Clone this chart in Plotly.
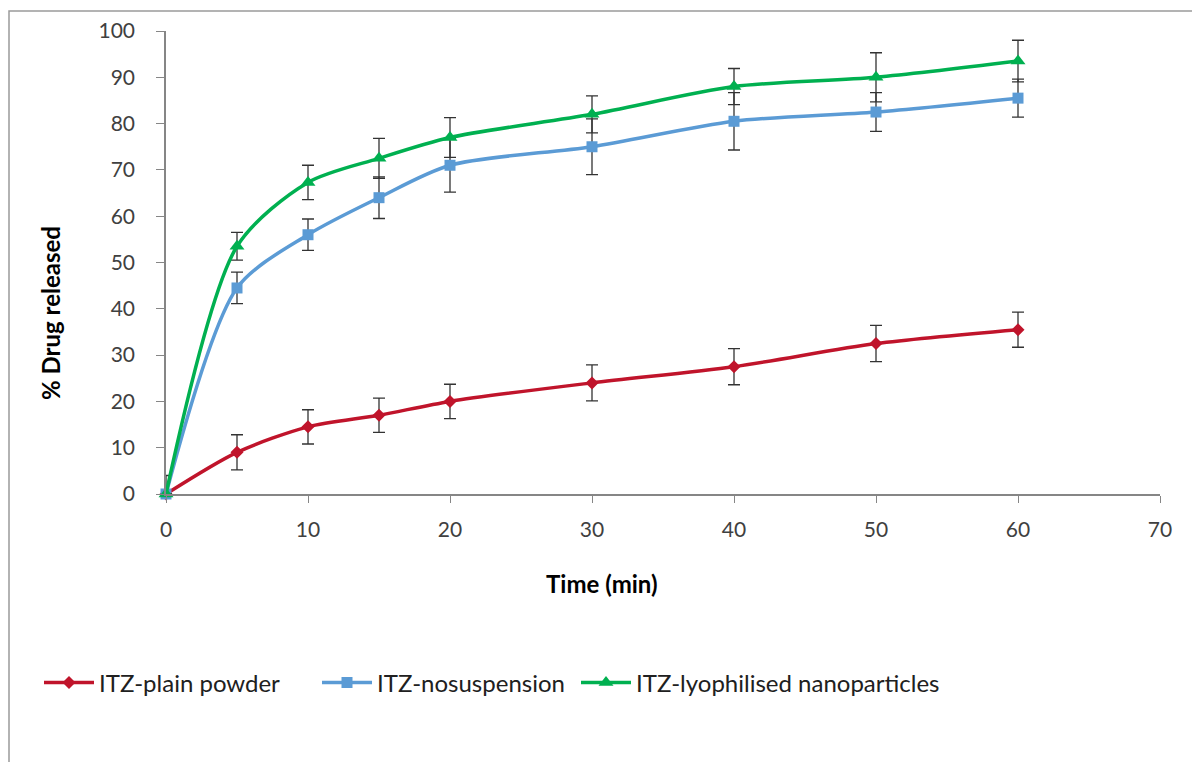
import plotly.graph_objects as go

time_min = [0, 5, 10, 15, 20, 30, 40, 50, 60]

plain_powder = [0, 9, 14.5, 17, 20, 24, 27.5, 32.5, 35.5]
plain_powder_err_up = [4, 3.8, 3.7, 3.7, 3.7, 3.9, 3.9, 3.9, 3.8]
plain_powder_err_down = [0, 3.8, 3.7, 3.7, 3.7, 3.9, 3.9, 3.9, 3.8]

nosuspension = [0, 44.5, 56, 64, 71, 75, 80.5, 82.5, 85.5]
nosuspension_err = [0, 3.4, 3.4, 4.5, 5.8, 6.0, 6.2, 4.2, 4.1]

lyophilised = [0, 53.5, 67.3, 72.5, 77, 82, 88, 90, 93.5]
lyophilised_err = [0, 3.0, 3.7, 4.3, 4.3, 4.0, 3.9, 5.3, 4.5]

names = ["ITZ-plain powder", "ITZ-nosuspension", "ITZ-lyophilised nanoparticles"]
colors = ["#C0142B", "#5B9BD5", "#00B050"]
symbols = ["diamond", "square", "triangle-up"]
sizes = [10, 11, 13]

FONT = "Lato, 'Open Sans', Arial, sans-serif"

# The page body adds an 8px offset; positions below are given in page pixels
OFF = 8
L, R, T, B = 166, 1160, 31, 494  # plot area in page pixels
PW, PH = R - L, B - T


def px(xp):
    return (xp - L) / PW


def py(yp):
    return (B - yp) / PH


legend_ids = ["legend", "legend2", "legend3"]
legend_left = [39, 317, 576]

fig = go.Figure()
series = [
    (plain_powder, plain_powder_err_up, plain_powder_err_down),
    (nosuspension, nosuspension_err, nosuspension_err),
    (lyophilised, lyophilised_err, lyophilised_err),
]
for (vals, eu, ed), name, col, sym, sz, lg in zip(series, names, colors, symbols, sizes, legend_ids):
    fig.add_trace(go.Scatter(
        x=time_min, y=vals, name=name, mode="lines+markers",
        line=dict(color=col, width=3.5, shape="spline", smoothing=0.8),
        marker=dict(color=col, symbol=sym, size=sz),
        error_y=dict(type="data", array=eu, arrayminus=ed, visible=True,
                     color="#333333", thickness=1.3, width=6),
        cliponaxis=False, legend=lg,
    ))

# chart frame (Excel chart area border)
fig.add_shape(type="rect", xref="paper", yref="paper",
              x0=px(9), x1=px(1230), y0=py(800), y1=py(11),
              line=dict(color="#9a9a9a", width=1.5), fillcolor="rgba(0,0,0,0)", layer="below")

fig.add_annotation(text="<b>% Drug released</b>", xref="paper", yref="paper",
                   x=px(50), y=py(313), xanchor="center", yanchor="middle", textangle=-90,
                   showarrow=False, font=dict(family=FONT, size=24, color="#000000"))
fig.add_annotation(text="<b>Time (min)</b>", xref="paper", yref="paper",
                   x=px(602), y=py(583), xanchor="center", yanchor="middle",
                   showarrow=False, font=dict(family=FONT, size=24, color="#000000"))

legend_style = dict(orientation="h", xanchor="left", y=py(683), yanchor="middle",
                    font=dict(family=FONT, size=24, color="#202020"),
                    itemwidth=50, bgcolor="rgba(0,0,0,0)")

fig.update_layout(
    width=1200 - OFF, height=762 - OFF,
    margin=dict(l=L - OFF, r=(1200 - OFF) - (R - OFF), t=T - OFF, b=(762 - OFF) - (B - OFF), autoexpand=False),
    paper_bgcolor="white", plot_bgcolor="white",
    font=dict(family=FONT, size=21, color="#404040"),
    showlegend=True,
    legend=dict(x=px(legend_left[0]), **legend_style),
    legend2=dict(x=px(legend_left[1]), **legend_style),
    legend3=dict(x=px(legend_left[2]), **legend_style),
)
fig.update_xaxes(range=[0, 70], tickvals=[0, 10, 20, 30, 40, 50, 60, 70],
                 showgrid=False, zeroline=False, showline=True,
                 linecolor="#868686", linewidth=1.5, ticks="outside",
                 ticklen=7, tickcolor="#868686", tickwidth=1.2,
                 ticklabelstandoff=9, tickfont=dict(family=FONT, size=21, color="#404040"))
fig.update_yaxes(range=[0, 100], tickvals=list(range(0, 101, 10)),
                 showgrid=False, zeroline=False, showline=True,
                 linecolor="#868686", linewidth=1.5, ticks="outside",
                 ticklen=8, tickcolor="#868686", tickwidth=1.2,
                 ticklabelstandoff=17, tickfont=dict(family=FONT, size=21, color="#404040"))

fig.write_html("out.html")
